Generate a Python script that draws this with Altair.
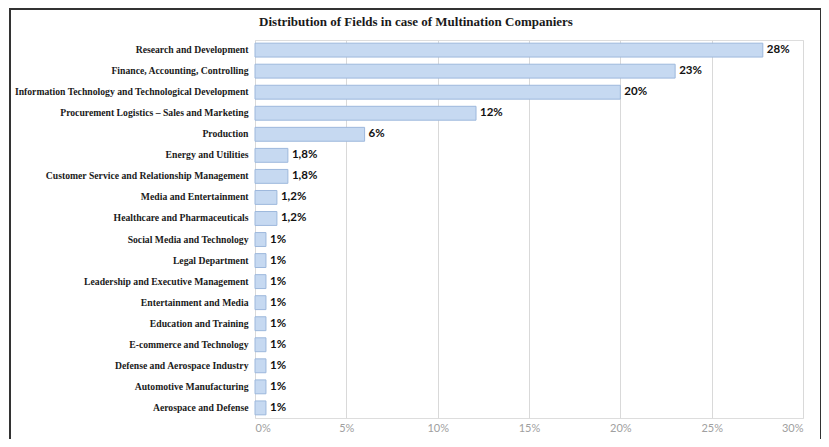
import altair as alt
import pandas as pd

fields = [
    "Research and Development",
    "Finance, Accounting, Controlling",
    "Information Technology and Technological Development",
    "Procurement Logistics – Sales and Marketing",
    "Production",
    "Energy and Utilities",
    "Customer Service and Relationship Management",
    "Media and Entertainment",
    "Healthcare and Pharmaceuticals",
    "Social Media and Technology",
    "Legal Department",
    "Leadership and Executive Management",
    "Entertainment and Media",
    "Education and Training",
    "E-commerce and Technology",
    "Defense and Aerospace Industry",
    "Automotive Manufacturing",
    "Aerospace and Defense",
]
values = [27.8, 23.0, 20.0, 12.1, 6.0, 1.8, 1.8, 1.2, 1.2,
          0.6, 0.6, 0.6, 0.6, 0.6, 0.6, 0.6, 0.6, 0.6]
labels = ["28%", "23%", "20%", "12%", "6%", "1,8%", "1,8%", "1,2%", "1,2%",
          "1%", "1%", "1%", "1%", "1%", "1%", "1%", "1%", "1%"]
x_ticks = [0, 5, 10, 15, 20, 25, 30]
title_text = "Distribution  of Fields  in case of Multination  Companiers"

df = pd.DataFrame({"field": fields, "value": values, "label": labels})

y_enc = alt.Y(
    "field:N",
    sort=fields,
    scale=alt.Scale(paddingInner=0.34, paddingOuter=0.15),
    axis=alt.Axis(
        title=None, ticks=False, domain=False, labelPadding=7, labelLimit=400,
        labelFont="Liberation Serif", labelFontWeight="bold", labelFontSize=9.7,
        labelColor="#1a1a1a",
    ),
)
x_enc = alt.X(
    "value:Q",
    scale=alt.Scale(domain=[0, 30], nice=False),
    axis=alt.Axis(
        title=None, values=x_ticks, labelExpr="datum.value + '%'",
        grid=True, gridColor="#d9d9d9", gridWidth=1, domain=False, ticks=False,
        labelColor="#a0a0a0", labelFont="Lato", labelFontSize=11, labelPadding=4,
    ),
)

bars = alt.Chart(df).mark_bar(
    color="#c6d9f1", stroke="#9db8dc", strokeWidth=1
).encode(x=x_enc, y=y_enc)

texts = alt.Chart(df).mark_text(
    align="left", baseline="middle", dx=4, font="Lato", fontWeight="bold",
    fontSize=11.5, color="#111111"
).encode(x="value:Q", y=alt.Y("field:N", sort=fields), text="label:N")

one = pd.DataFrame({"k": [0]})
title_mark = alt.Chart(one).mark_text(
    text=title_text, font="Liberation Serif", fontSize=13, fontWeight="bold",
    color="#1a1a1a", align="center", baseline="middle"
).encode(x=alt.value(161), y=alt.value(-18))

left_b = alt.Chart(one).mark_rule(color="#333333", strokeWidth=2).encode(
    x=alt.value(-245), y=alt.value(-31), y2=alt.value(400))
right_b = alt.Chart(one).mark_rule(color="#333333", strokeWidth=2).encode(
    x=alt.value(566), y=alt.value(-31), y2=alt.value(400))
top_b = alt.Chart(one).mark_rule(color="#333333", strokeWidth=2).encode(
    x=alt.value(-246), x2=alt.value(567), y=alt.value(-31))

chart = alt.layer(bars, texts, title_mark, left_b, right_b, top_b).properties(
    width=548,
    height=378,
    autosize=alt.AutoSizeParams(type="none"),
    padding={"left": 247, "top": 32, "right": 18, "bottom": 21},
).configure_view(stroke=None).configure(background="white")

chart.save("out.html", embed_options={"renderer": "svg", "actions": False})
